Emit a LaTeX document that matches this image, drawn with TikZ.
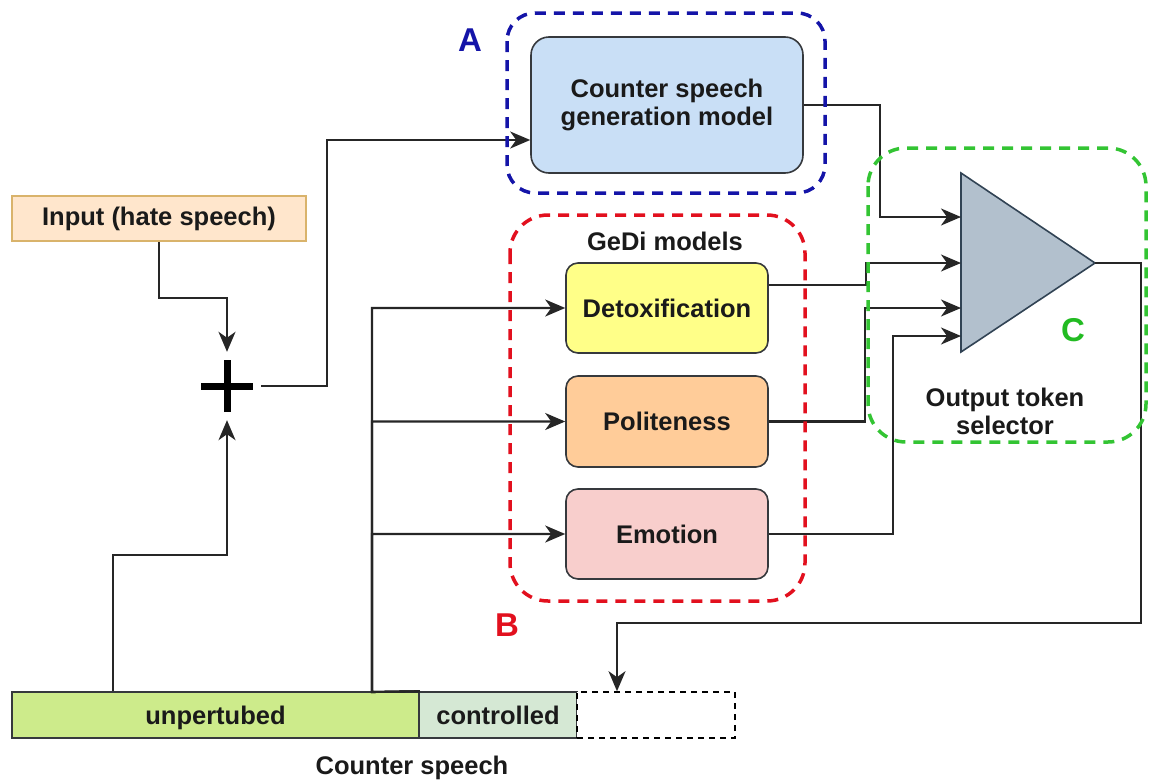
\documentclass[tikz,border=0pt]{standalone}
\usepackage{fontspec}
\setmainfont{Liberation Sans}
\usetikzlibrary{arrows.meta}
\definecolor{txt}{HTML}{1A1A1A}
\definecolor{bord}{HTML}{36393D}
\definecolor{inputfill}{HTML}{FFE6CC}
\definecolor{inputdraw}{HTML}{D9B36B}
\definecolor{csfill}{HTML}{C9DFF6}
\definecolor{detfill}{HTML}{FFFF88}
\definecolor{polfill}{HTML}{FFCC99}
\definecolor{emofill}{HTML}{F8CECC}
\definecolor{trifill}{HTML}{B2C0CD}
\definecolor{tridraw}{HTML}{314354}
\definecolor{unpfill}{HTML}{CDEB8B}
\definecolor{ctlfill}{HTML}{D5E8D4}
\definecolor{grpA}{HTML}{1414A8}
\definecolor{grpB}{HTML}{E2101E}
\definecolor{grpC}{HTML}{33C433}
\definecolor{lblC}{HTML}{22BB22}
\tikzset{tip/.tip={Stealth[length=20pt,width=17pt,inset=6pt]}}
\begin{document}
\begin{tikzpicture}[x=1pt,y=-1pt,
  every node/.style={font=\fontsize{25.5}{30}\selectfont\bfseries, text=txt},
  box/.style={draw=bord, line width=1.6pt, rounded corners=12pt, align=center, inner sep=0pt},
  barbox/.style={draw=bord, line width=1.6pt, inner sep=0pt, minimum height=46pt, text height=20pt, text depth=1pt},
  conn/.style={draw=black!85, line width=2.1pt},
  arr/.style={conn, -tip}
]
\useasboundingbox (0,0) rectangle (1149,782);

% nodes
\node[box, rounded corners=0pt, fill=inputfill, draw=inputdraw, minimum width=294pt, minimum height=45pt] (input) at (159,218.5) {Input (hate speech)};
\node[box, rounded corners=18pt, fill=csfill, minimum width=272pt, minimum height=136pt] (csgm) at (667,105) {Counter speech\\[-2pt]generation model};
\node[box, fill=detfill, minimum width=202pt, minimum height=90pt] (detox) at (667,308) {Detoxification};
\node[box, fill=polfill, minimum width=202pt, minimum height=91pt] (polite) at (667,421.5) {Politeness};
\node[box, fill=emofill, minimum width=202pt, minimum height=90pt] (emotion) at (667,534) {Emotion};

\node[minimum size=68pt, inner sep=0pt,
  path picture={\draw[line width=7pt, black] ([xshift=-26pt]path picture bounding box.center) -- ([xshift=26pt]path picture bounding box.center);
                \draw[line width=7pt, black] ([yshift=-26pt]path picture bounding box.center) -- ([yshift=26pt]path picture bounding box.center);}] (plus) at (227,386) {};

\node[barbox, fill=unpfill, minimum width=407pt] (unpert) at (215.5,715) {unpertubed};
\node[barbox, fill=ctlfill, minimum width=158pt] (ctrl) at (498,715) {controlled};
\node[barbox, draw=black, dash pattern=on 6pt off 5pt, fill=white, minimum width=158pt] (slot) at (656,715) {};

% triangle (output token selector)
\draw[fill=trifill, draw=tridraw, line width=1.6pt] (961,173) -- (1095,263) -- (961,352) -- cycle;
\coordinate (tin1) at (961,217);
\coordinate (tin2) at (961,263);
\coordinate (tin3) at (961,308);
\coordinate (tin4) at (961,336);
\coordinate (tout) at (1095,263);

% connectors
\draw[arr] (input.south) -- ++(0,56) -| (plus.north);
\draw[arr] (plus.east) -| (327,140) -- ([yshift=-35pt]csgm.west);
\draw[arr] (csgm.east) -| (880,217) -- (tin1);
\draw[arr] ([yshift=23pt]detox.east) -| (866,263) -- (tin2);
\draw[arr] (polite.east) -| (865,308) -- (tin3);
\draw[arr] (emotion.east) -| (893,336) -- (tin4);
\draw[arr] (tout) -| (1141,623) -| ([xshift=-39pt]slot.north);
\draw[arr] (unpert.north east) -- (372,692) |- (detox.west);
\draw[arr] (unpert.north east) -- (372,692) |- (polite.west);
\draw[arr] (unpert.north east) -- (372,692) |- (emotion.west);
\draw[arr] ([xshift=-102.5pt]unpert.north) -- ++(0,-136) -| (plus.south);

% groups
\begin{scope}[line width=3.5pt, rounded corners=38pt, dash pattern=on 11pt off 8pt]
\draw[draw=grpA, rounded corners=28pt] (507,13) rectangle (825,193);
\draw[draw=grpB] (510,215) rectangle (805,601);
\draw[draw=grpC] (868,148) rectangle (1146,442);
\end{scope}

% texts
\node (gedi) at (665,241) {GeDi models};
\node[align=center] (ots) at (1005,411) {Output token\\[-2pt]selector};
\node (cs) at (412,768) {Counter speech};
\begin{scope}[every node/.style={font=\fontsize{33}{36}\selectfont\bfseries}]
\node[text=grpA] (lA) at (470,40) {A};
\node[text=grpB] (lB) at (507,625) {B};
\node[text=lblC] (lC) at (1073,330) {C};
\end{scope}
\end{tikzpicture}
\end{document}
